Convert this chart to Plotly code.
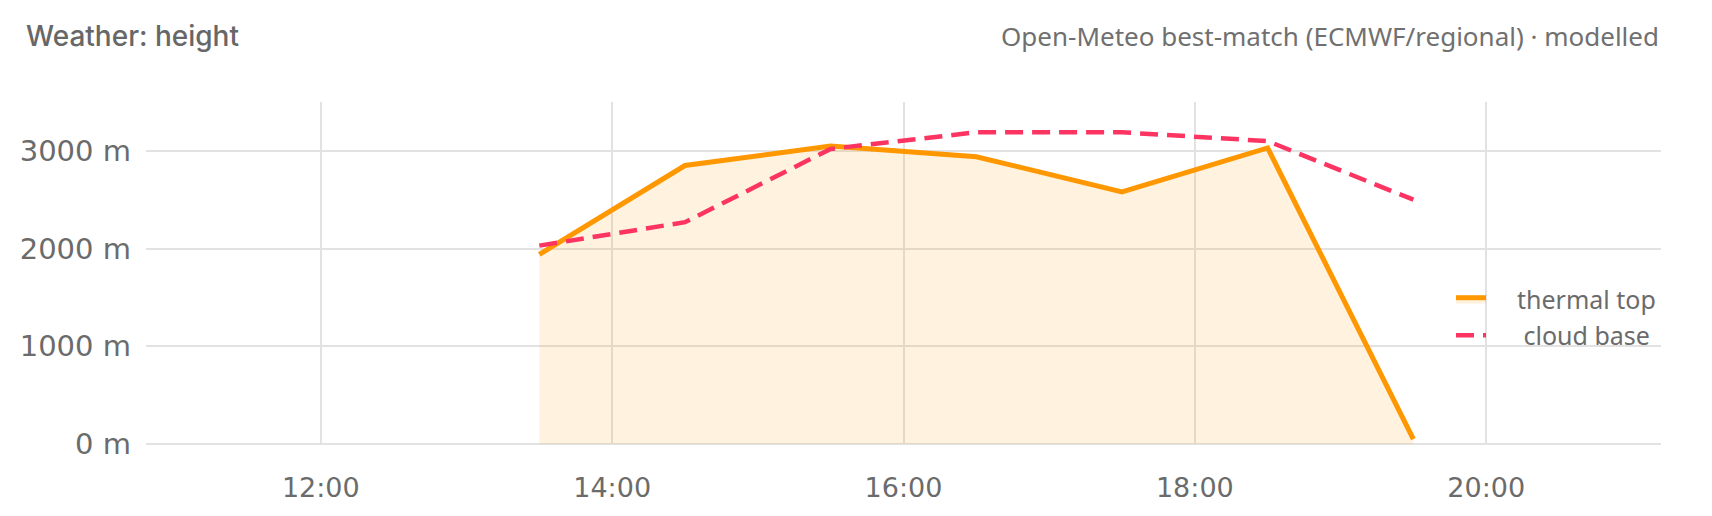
import plotly.graph_objects as go

# ---- data ----
day = "2024-06-01"
times = ["13:30", "14:30", "15:30", "16:30", "17:30", "18:30", "19:30"]
thermal_top = [1940, 2850, 3050, 2940, 2580, 3030, 50]
cloud_base = [2030, 2270, 3020, 3190, 3190, 3100, 2500]
x_range = ["10:48", "21:12"]
y_range = [0, 3500]

title_text = "Weather: height"
subtitle_text = "Open-Meteo best-match (ECMWF/regional) · modelled"
series_names = ["thermal top", "cloud base"]

ORANGE = "#ff9800"
PINK = "#fb3462"
GRID = "#e2e2e2"
TEXT = "#6b6b6b"

xs = [f"{day} {t}" for t in times]
pad = "\u00a0" * 4

fig = go.Figure()
fig.add_trace(go.Scatter(
    x=xs, y=thermal_top, name=pad + series_names[0], mode="lines",
    line=dict(color=ORANGE, width=5),
    fill="tozeroy", fillcolor="rgba(255,152,0,0.13)",
))
fig.add_trace(go.Scatter(
    x=xs, y=cloud_base, name=pad + "\u00a0" + series_names[1], mode="lines",
    line=dict(color=PINK, width=4.5, dash="18px,9px"),
))

fig.update_layout(
    width=1712, height=516,
    margin=dict(l=135, r=59, t=94, b=80),
    paper_bgcolor="white", plot_bgcolor="white",
    font=dict(family="Noto Sans", color=TEXT),
    title=dict(text=title_text, x=18/1712, xanchor="left", xref="container",
               y=1 - 28/516, yanchor="middle", yref="container",
               font=dict(family="Inter", size=28, weight=500, color="#676767")),
    showlegend=True,
    legend=dict(x=1, xanchor="right", y=0.37, yanchor="middle",
                bgcolor="rgba(0,0,0,0)", font=dict(size=25, color=TEXT),
                tracegroupgap=0),
    annotations=[dict(text=subtitle_text, xref="paper", yref="paper",
                      x=1, xanchor="right", y=(436-28)/342, yanchor="middle",
                      showarrow=False, font=dict(size=26, color="#707070"))],
)
fig.update_xaxes(
    type="date", range=[f"{day} {x_range[0]}", f"{day} {x_range[1]}"],
    tickformat="%H:%M", dtick=2*3600*1000, tick0=f"{day} 00:00",
    showgrid=True, gridcolor=GRID, gridwidth=2, zeroline=False, showline=False,
    ticks="", tickfont=dict(family="DejaVu Sans", size=27, color=TEXT),
    ticklabelstandoff=25,
)
fig.update_yaxes(
    range=y_range, dtick=1000, ticksuffix=" m",
    showgrid=True, gridcolor=GRID, gridwidth=2,
    zeroline=True, zerolinecolor=GRID, zerolinewidth=2, showline=False,
    ticks="", tickfont=dict(family="DejaVu Sans", size=29, color=TEXT),
    ticklabelstandoff=14,
)

fig.write_html("out.html")
